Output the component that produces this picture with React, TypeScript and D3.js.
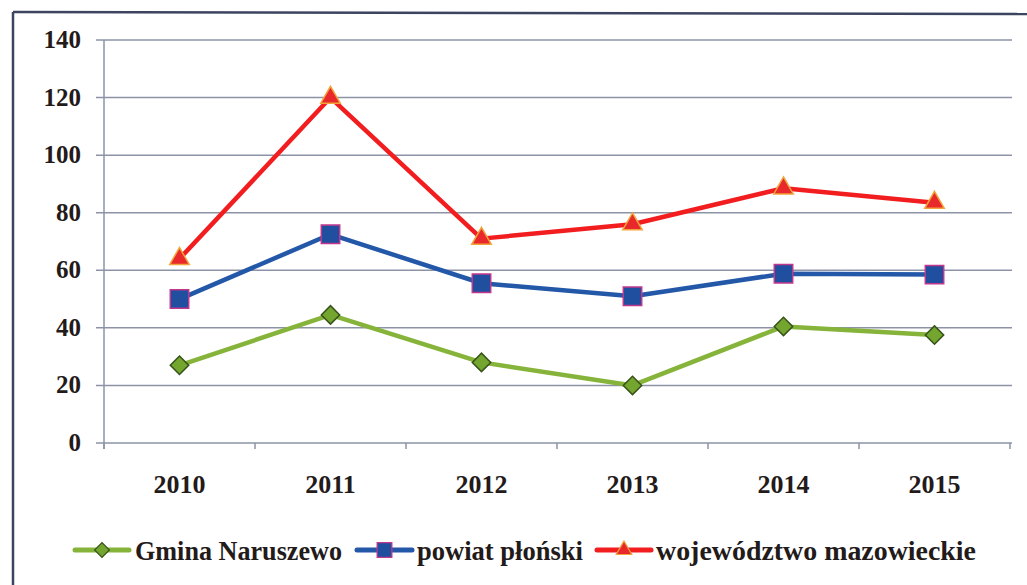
import React from 'react';
import * as d3 from 'd3';

const years = ['2010', '2011', '2012', '2013', '2014', '2015'];
const gminaValues = [27, 44.5, 28, 20, 40.5, 37.5];
const powiatValues = [50, 72.5, 55.5, 51, 58.8, 58.5];
const wojValues = [64, 120, 71, 76, 88.5, 83.5];
const yTicks = [0, 20, 40, 60, 80, 100, 120, 140];

const W = 1027;
const H = 585;
const textColor = '#231a1a';
const gridColor = '#8d93a6';
const serif = 'Liberation Serif, DejaVu Serif, Times New Roman, serif';

const series = [
  { name: 'Gmina Naruszewo', values: gminaValues, color: '#86b33a', fill: '#74a52e', stroke: '#37521a', shape: 'diamond' },
  { name: 'powiat płoński', values: powiatValues, color: '#2357a8', fill: '#1f4f9e', stroke: '#c2378e', shape: 'square' },
  { name: 'województwo mazowieckie', values: wojValues, color: '#f21d1f', fill: '#e8282a', stroke: '#f2a33a', shape: 'triangle' },
];

// legend layout
const legendItems = [
  { lineX0: 75, lineX1: 129, textX: 135, textW: 207 },
  { lineX0: 357, lineX1: 412, textX: 417, textW: 166 },
  { lineX0: 597, lineX1: 651, textX: 656, textW: 320 },
];

function marker(shape: string, scale: number) {
  if (shape === 'diamond') return d3.symbol(d3.symbolSquare, 170 * scale * scale)() || '';
  if (shape === 'square') return d3.symbol(d3.symbolSquare, 340 * scale * scale)() || '';
  return d3.symbol(d3.symbolTriangle, 165 * scale * scale)() || '';
}

export default function App() {
  const x = d3.scaleBand<string>().domain(years).range([104, 1010]);
  const y = d3.scaleLinear().domain([0, 140]).range([443, 40]);
  const cx = (d: string) => (x(d) || 0) + x.bandwidth() / 2;

  const line = d3.line<number>()
    .x((_, i) => cx(years[i]))
    .y((v) => y(v));

  const boundaries = years.map((d) => x(d) || 0).concat([1010]);

  return (
    <svg width={W} height={H} style={{ position: 'absolute', left: 0, top: 0, background: '#fff' }}>
      {/* outer frame, cropped on the right and bottom */}
      <line x1={13} y1={12} x2={W} y2={14} stroke="#3c4460" strokeWidth={2.5} />
      <line x1={13} y1={12} x2={13} y2={H} stroke="#3c4460" strokeWidth={2.5} />

      {/* grid */}
      {yTicks.map((t) => (
        <g key={t}>
          <line x1={96} x2={1012} y1={y(t)} y2={y(t)} stroke={gridColor} strokeWidth={1.5} />
          <text
            x={81}
            y={y(t) + 8}
            textAnchor="end"
            style={{ fontFamily: serif, fontWeight: 'bold', fontSize: 25 }}
            fill={textColor}
          >
            {t}
          </text>
        </g>
      ))}
      <line x1={104} x2={104} y1={y(140)} y2={y(0) + 6} stroke={gridColor} strokeWidth={1.5} />
      {boundaries.map((b, i) => (
        <line key={i} x1={b} x2={b} y1={y(0)} y2={y(0) + 6} stroke={gridColor} strokeWidth={1.5} />
      ))}
      {years.map((d) => (
        <text
          key={d}
          x={cx(d)}
          y={493}
          textAnchor="middle"
          style={{ fontFamily: serif, fontWeight: 'bold', fontSize: 26 }}
          fill={textColor}
        >
          {d}
        </text>
      ))}

      {/* series */}
      {series.map((s) => (
        <g key={s.name}>
          <path d={line(s.values) || ''} fill="none" stroke={s.color} strokeWidth={4.5} strokeLinejoin="round" />
          {s.values.map((v, i) => (
            <path
              key={i}
              d={marker(s.shape, 1)}
              transform={`translate(${cx(years[i])},${y(v)})${s.shape === 'diamond' ? ' rotate(45)' : ''}`}
              fill={s.fill}
              stroke={s.stroke}
              strokeWidth={1.5}
            />
          ))}
        </g>
      ))}

      {/* legend */}
      {series.map((s, i) => {
        const L = legendItems[i];
        const mx = (L.lineX0 + L.lineX1) / 2;
        return (
          <g key={s.name}>
            <line x1={L.lineX0} x2={L.lineX1} y1={550} y2={550} stroke={s.color} strokeWidth={5} strokeLinecap="round" />
            <path
              d={marker(s.shape, 0.8)}
              transform={`translate(${mx},550)${s.shape === 'diamond' ? ' rotate(45)' : ''}`}
              fill={s.fill}
              stroke={s.stroke}
              strokeWidth={1.2}
            />
            <text
              x={L.textX}
              y={560}
              textLength={L.textW}
              lengthAdjust="spacingAndGlyphs"
              style={{ fontFamily: serif, fontWeight: 'bold', fontSize: 28 }}
              fill={textColor}
            >
              {s.name}
            </text>
          </g>
        );
      })}
    </svg>
  );
}
